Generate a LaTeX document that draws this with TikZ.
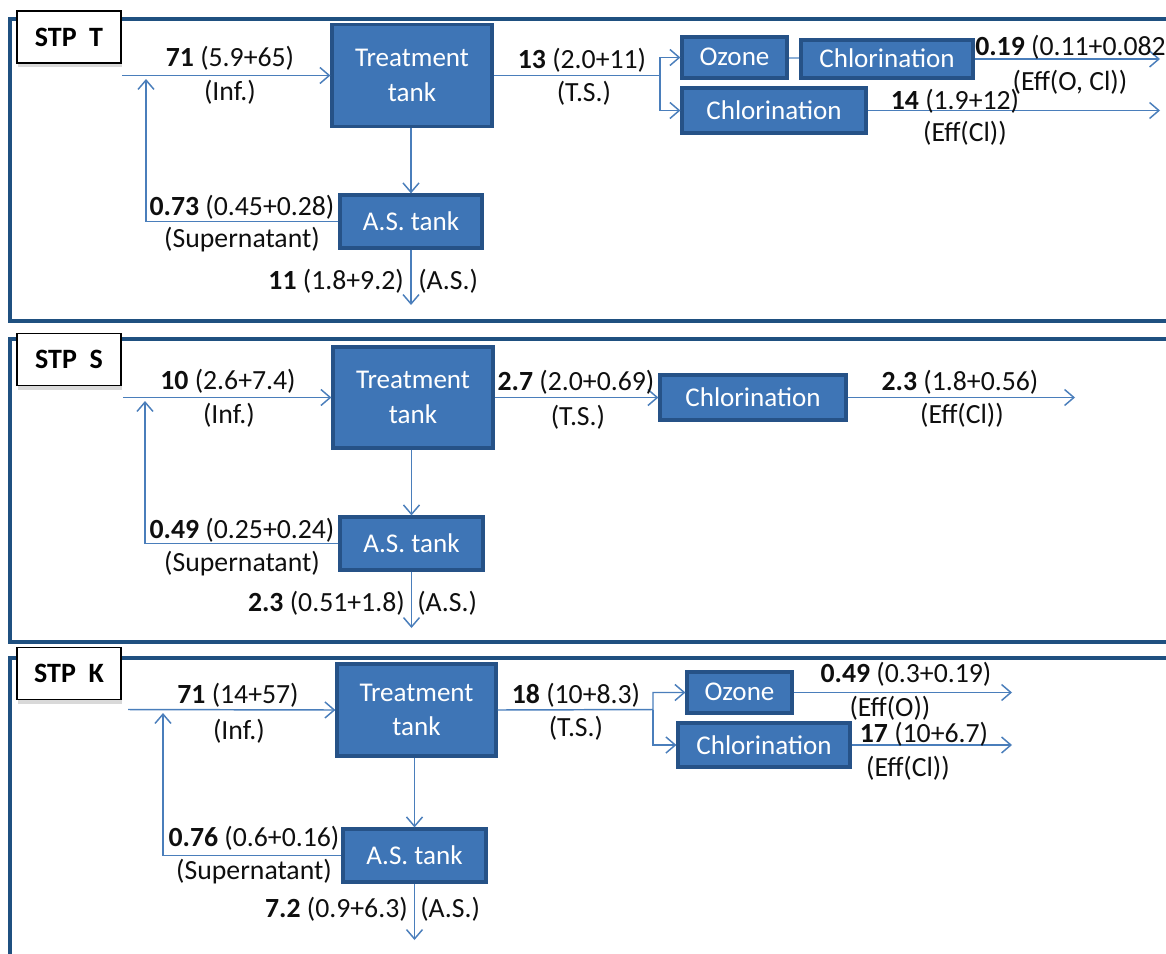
\documentclass[tikz,border=0pt]{standalone}
\usepackage{fontspec}
\setmainfont{Carlito}
\usetikzlibrary{arrows.meta,shadows}
\definecolor{frameblue}{RGB}{31,80,128}
\definecolor{boxfill}{RGB}{62,117,182}
\definecolor{boxline}{RGB}{38,82,135}
\definecolor{linkblue}{RGB}{74,126,187}
\definecolor{paleblue}{RGB}{140,175,215}
\definecolor{txt}{RGB}{15,15,15}
\newcommand\lblfont{\fontsize{20.8}{24}\selectfont}
\newcommand\boxfont{\fontsize{20.3}{26}\selectfont}
\newcommand\stpfont{\fontsize{21}{24}\selectfont\bfseries}
\begin{document}
\begin{tikzpicture}[x=0.75pt,y=-0.75pt,
  frame/.style={draw=frameblue, line width=3pt},
  stpbox/.style={draw=black, line width=1.1pt, fill=white, font=\stpfont,
    minimum width=78pt, minimum height=39pt, inner sep=0pt,
    drop shadow={opacity=0.3, shadow xshift=1pt, shadow yshift=-3pt}},
  proc/.style={draw=boxline, line width=2.4pt, fill=boxfill, text=white,
    font=\boxfont, inner sep=0pt, align=center},
  flow/.style={draw=linkblue, line width=1.1pt, -{Straight Barb[length=7pt,width=12pt]}},
  link/.style={draw=paleblue, line width=1.5pt},
  lbl/.style={font=\lblfont, inner sep=0pt, text=txt},
  low/.style={text depth=1pt}]
\useasboundingbox (0,0) rectangle (1166,953);
\clip (0,0) rectangle (1166,953);

% ---------- frames ----------
\draw[frame] (1180,19) -- (10,19) -- (10,321) -- (1180,321);
\draw[frame] (1180,338.5) -- (10,338.5) -- (10,641.5) -- (1180,641.5);
\draw[frame] (1180,658) -- (10,658) -- (10,975);

% ================= STP T =================
\node[stpbox] (stpT) at (69,37) {STP\hspace{0.45em}T};
\node[proc, minimum width=120pt, minimum height=77pt] (tt1) at (412,75.5) {Treatment\\tank};
\node[proc, minimum width=106.5pt, minimum height=39.75pt] (as1) at (411,221.5) {A.S. tank};
\node[proc, minimum width=78.75pt, minimum height=30.75pt, low] (oz1) at (734.5,57.5) {Ozone};
\node[proc, minimum width=129pt, minimum height=28.5pt, low] (cl1a) at (887,59) {Chlorination};
\node[proc, minimum width=138pt, minimum height=33.75pt] (cl1b) at (774,110.5) {Chlorination};

\coordinate (inT) at (122,75.5);
\coordinate (rT) at (146,221.5);
\coordinate (rTtip) at (146,79);
\coordinate (asT) at (411,305);
\coordinate (brT) at (660,75.5);
\coordinate (outT1) at (1160,59);
\coordinate (outT2) at (1160,110.5);

\draw[flow] (inT) -- (tt1.west);
\draw[flow] (as1.west) -- (rT) -- (rTtip);
\draw[flow] (tt1.south -| as1.north) -- (as1.north);
\draw[flow] (as1.south) -- (asT);
\draw[flow] (tt1.east) -- (brT) |- (oz1.west);
\draw[flow] (brT) |- (cl1b.west);
\draw[link] (oz1.east) -- (oz1.east -| cl1a.west);
\draw[flow] (cl1a.east) -- (outT1);
\draw[flow] (cl1b.east) -- (outT2);

\node[lbl] (tInfA) at (230,58) {\textbf{71} (5.9+65)};
\node[lbl] (tInfB) at (230,92) {(Inf.)};
\node[lbl] (tTSA) at (582,60) {\textbf{13} (2.0+11)};
\node[lbl] (tTSB) at (584,93) {(T.S.)};
\node[lbl, anchor=west] (tE1A) at (975,47) {\textbf{0.19} (0.11+0.082};
\node[lbl] (tE1B) at (1070,82) {(Eff(O, Cl))};
\node[lbl] (tE2A) at (955,101) {\textbf{14} (1.9+12)};
\node[lbl] (tE2B) at (965,133) {(Eff(Cl))};
\node[lbl] (tSupA) at (242,207) {\textbf{0.73} (0.45+0.28)};
\node[lbl] (tSupB) at (242,240) {(Supernatant)};
\node[lbl, anchor=east] (tASA) at (404,281) {\textbf{11} (1.8+9.2)};
\node[lbl, anchor=west] (tASB) at (418,281) {(A.S.)};

% ================= STP S =================
\node[stpbox] (stpS) at (69,359.5) {STP\hspace{0.45em}S};
\node[proc, minimum width=120pt, minimum height=75.75pt] (tt2) at (413,397.5) {Treatment\\tank};
\node[proc, minimum width=107.25pt, minimum height=39.75pt] (as2) at (411.5,543.5) {A.S. tank};
\node[proc, minimum width=139.5pt, minimum height=33.75pt] (cl2) at (753,397.5) {Chlorination};

\coordinate (inS) at (123,397.5);
\coordinate (rS) at (145,543.5);
\coordinate (rStip) at (145,401);
\coordinate (asS) at (411.5,628);
\coordinate (outS) at (1075,397.5);

\draw[flow] (inS) -- (tt2.west);
\draw[flow] (as2.west) -- (rS) -- (rStip);
\draw[flow] (tt2.south -| as2.north) -- (as2.north);
\draw[flow] (as2.south) -- (asS);
\draw[flow] (tt2.east) -- (cl2.west);
\draw[flow] (cl2.east) -- (outS);

\node[lbl] (sInfA) at (228,381) {\textbf{10} (2.6+7.4)};
\node[lbl] (sInfB) at (229,415) {(Inf.)};
\node[lbl] (sSupA) at (242,530) {\textbf{0.49} (0.25+0.24)};
\node[lbl] (sSupB) at (242,564) {(Supernatant)};
\node[lbl, anchor=east] (sASA) at (405,603) {\textbf{2.3} (0.51+1.8)};
\node[lbl, anchor=west] (sASB) at (417,603) {(A.S.)};
\node[lbl] (sTSA) at (576,382) {\textbf{2.7} (2.0+0.69)};
\node[lbl] (sTSB) at (578,417) {(T.S.)};
\node[lbl] (sEA) at (960,382) {\textbf{2.3} (1.8+0.56)};
\node[lbl] (sEB) at (962,415) {(Eff(Cl))};

% ================= STP K =================
\node[stpbox] (stpK) at (69,673.5) {STP\hspace{0.45em}K};
\node[proc, minimum width=119.25pt, minimum height=69pt] (tt3) at (416.5,710) {Treatment\\tank};
\node[proc, minimum width=107.25pt, minimum height=39.75pt] (as3) at (414.5,855.5) {A.S. tank};
\node[proc, minimum width=78.75pt, minimum height=30.75pt, low] (oz3) at (739.5,692.5) {Ozone};
\node[proc, minimum width=129pt, minimum height=33pt] (cl3) at (764,745) {Chlorination};

\coordinate (inK) at (128,709.5);
\coordinate (rK) at (163,855.5);
\coordinate (rKtip) at (163,713);
\coordinate (asK) at (414.5,940);
\coordinate (brK) at (653,709.5);
\coordinate (outK1) at (1012,692.5);
\coordinate (outK2) at (1012,745);

\draw[flow] (inK) -- (tt3.west);
\draw[flow] (as3.west) -- (rK) -- (rKtip);
\draw[flow] (tt3.south -| as3.north) -- (as3.north);
\draw[flow] (as3.south) -- (asK);
\draw[flow] (tt3.east) -- (brK) |- (oz3.west);
\draw[flow] (brK) |- (cl3.west);
\draw[flow] (oz3.east) -- (outK1);
\draw[flow] (cl3.east) -- (outK2);

\node[lbl] (kInfA) at (238,695) {\textbf{71} (14+57)};
\node[lbl] (kInfB) at (239,731) {(Inf.)};
\node[lbl] (kSupA) at (254,838) {\textbf{0.76} (0.6+0.16)};
\node[lbl] (kSupB) at (254,872) {(Supernatant)};
\node[lbl, anchor=east] (kASA) at (408,909) {\textbf{7.2} (0.9+6.3)};
\node[lbl, anchor=west] (kASB) at (420,909) {(A.S.)};
\node[lbl] (kTSA) at (576,695) {\textbf{18} (10+8.3)};
\node[lbl] (kTSB) at (576,728) {(T.S.)};
\node[lbl] (kE1A) at (906,674) {\textbf{0.49} (0.3+0.19)};
\node[lbl] (kE1B) at (890,708) {(Eff(O))};
\node[lbl] (kE2A) at (924,734) {\textbf{17} (10+6.7)};
\node[lbl] (kE2B) at (908,768) {(Eff(Cl))};
\end{tikzpicture}
\end{document}
